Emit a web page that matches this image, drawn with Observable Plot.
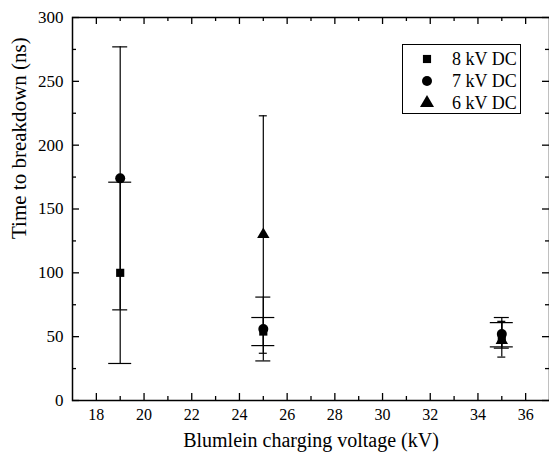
<!DOCTYPE html>
<html><head><meta charset="utf-8">
<script src="https://cdn.jsdelivr.net/npm/d3@7"></script>
<script src="https://cdn.jsdelivr.net/npm/@observablehq/plot@0.6"></script>
<style>
body{margin:0;background:#fff;}
#wrap{position:relative;width:549px;height:458px;font-family:"Liberation Serif","Times New Roman",serif;}
#legend{position:absolute;left:402px;top:44px;width:119px;height:70px;border:1px solid #000;box-sizing:border-box;background:#fff;}
#legend .row{position:absolute;left:0;height:22px;display:flex;align-items:center;}
#legend .row svg{position:absolute;left:14px;top:1px;}
#legend .row span{position:absolute;left:49px;font-size:18px;white-space:nowrap;line-height:22px;top:0;}
</style></head><body><div id="wrap"></div><script>
// ---- data ----
const xValues = [19, 25, 35];
const seriesNames = ["8 kV DC", "7 kV DC", "6 kV DC"];
const seriesSymbols = ["square", "circle", "triangle"];
// 8 kV DC (square)
const y8 = [100, 54, 49];
const lo8 = [29, 43, 42];
const hi8 = [171, 65, 61];
// 7 kV DC (circle)
const y7 = [174, 56, 52];
const lo7 = [71, 31, 41];
const hi7 = [277, 81, 65];
// 6 kV DC (triangle)
const x6 = [25, 35];
const y6 = [130, 47];
const lo6 = [37, 34];
const hi6 = [223, 62];
// axes
const xTicksMajor = [18, 20, 22, 24, 26, 28, 30, 32, 34, 36];
const xTicksMinor = [19, 21, 23, 25, 27, 29, 31, 33, 35];
const yTicksMajor = [0, 50, 100, 150, 200, 250, 300];
const yTicksMinor = [25, 75, 125, 175, 225, 275];
const xTitle = "Blumlein charging voltage (kV)";
const yTitle = "Time to breakdown (ns)";

// ---- build tables ----
const mk = (xs, ys, los, his) => xs.map((x, i) => ({x, y: ys[i], lo: los[i], hi: his[i]}));
const d8 = mk(xValues, y8, lo8, hi8);
const d7 = mk(xValues, y7, lo7, hi7);
const d6 = mk(x6, y6, lo6, hi6);

const W = 549, H = 458, mL = 72, mR = 0, mT = 17, mB = 58;
const pw = W - mL - mR, ph = H - mT - mB;
const font = "'Liberation Serif','Times New Roman',serif";

function errMarks(data, cap) {
  return [
    Plot.ruleX(data, {x: "x", y1: "lo", y2: "hi", stroke: "black", strokeWidth: 1.2}),
    Plot.ruleY(data, {y: "lo", x1: "x", x2: "x", insetLeft: -cap, insetRight: -cap, stroke: "black", strokeWidth: 1.2}),
    Plot.ruleY(data, {y: "hi", x1: "x", x2: "x", insetLeft: -cap, insetRight: -cap, stroke: "black", strokeWidth: 1.2})
  ];
}

const chart = Plot.plot({
  width: W, height: H,
  marginLeft: mL, marginRight: mR, marginTop: mT, marginBottom: mB,
  style: {fontFamily: font, background: "white", color: "black", overflow: "visible"},
  x: {domain: [17, 37], axis: null},
  y: {domain: [0, 300], axis: null},
  marks: [
    // tick labels
    Plot.text(xTicksMajor, {x: d => d, text: d => String(d), frameAnchor: "bottom", lineAnchor: "top", dy: 8, fontSize: 16, fill: "black"}),
    Plot.text(yTicksMajor, {y: d => d, text: d => String(d), frameAnchor: "left", textAnchor: "end", dx: -9, fontSize: 17, fill: "black"}),
    // inward ticks
    Plot.ruleX(xTicksMajor, {x: d => d, insetTop: ph - 7, stroke: "black", strokeWidth: 1.3}),
    Plot.ruleX(xTicksMinor, {x: d => d, insetTop: ph - 4, stroke: "black", strokeWidth: 1.3}),
    Plot.ruleX(xTicksMajor, {x: d => d, insetBottom: ph - 7, stroke: "black", strokeWidth: 1.3}),
    Plot.ruleX(xTicksMinor, {x: d => d, insetBottom: ph - 4, stroke: "black", strokeWidth: 1.3}),
    Plot.ruleY(yTicksMajor, {y: d => d, insetRight: pw - 7, stroke: "black", strokeWidth: 1.3}),
    Plot.ruleY(yTicksMinor, {y: d => d, insetRight: pw - 4, stroke: "black", strokeWidth: 1.3}),
    Plot.ruleY(yTicksMajor, {y: d => d, insetLeft: pw - 7, stroke: "black", strokeWidth: 1.3}),
    Plot.ruleY(yTicksMinor, {y: d => d, insetLeft: pw - 4, stroke: "black", strokeWidth: 1.3}),
    Plot.frame({stroke: "black", strokeWidth: 1.5}),
    // error bars
    ...errMarks(d8, 11.5),
    ...errMarks(d7, 7.5),
    ...errMarks(d6, 4),
    // markers
    Plot.dot(d8, {x: "x", y: "y", symbol: seriesSymbols[0], r: 4.6, fill: "black", stroke: "none"}),
    Plot.dot(d7, {x: "x", y: "y", symbol: seriesSymbols[1], r: 5, fill: "black", stroke: "none"}),
    Plot.dot(d6, {x: "x", y: "y", symbol: seriesSymbols[2], r: 4.6, fill: "black", stroke: "none"}),
    // titles
    Plot.text([xTitle], {text: d => d, frameAnchor: "bottom", dy: 46, fontSize: 20, fill: "black"}),
    Plot.text([yTitle], {text: d => d, frameAnchor: "left", dx: -53, dy: 30, rotate: -90, fontSize: 21, fill: "black"})
  ]
});

const wrap = document.getElementById("wrap");
wrap.appendChild(chart);

// legend
const legend = document.createElement("div");
legend.id = "legend";
const symMap = {square: d3.symbolSquare, circle: d3.symbolCircle, triangle: d3.symbolTriangle};
const legendR = [4.6, 5, 5.2];
seriesNames.forEach((name, i) => {
  const row = document.createElement("div");
  row.className = "row";
  row.style.top = (3 + i * 22) + "px";
  const size = Math.PI * legendR[i] * legendR[i];
  const path = d3.symbol(symMap[seriesSymbols[i]], size)();
  row.innerHTML = `<svg width="20" height="20" viewBox="-10 -10 20 20"><path d="${path}" fill="black"/></svg><span>${name}</span>`;
  legend.appendChild(row);
});
wrap.appendChild(legend);
</script></body></html>
